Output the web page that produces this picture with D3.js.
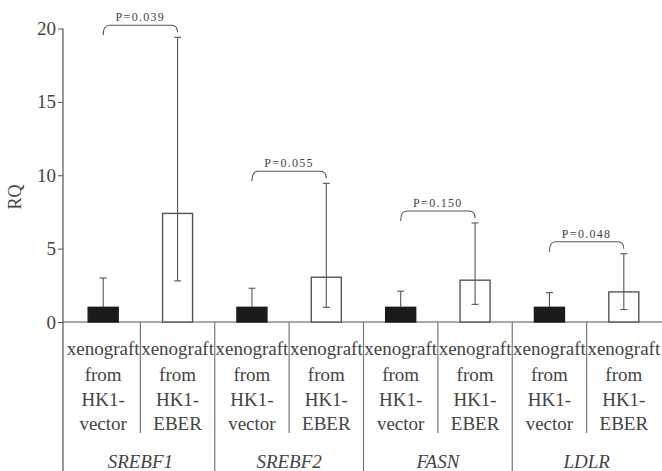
<!DOCTYPE html>
<html>
<head>
<meta charset="utf-8">
<style>
  body { margin: 0; background: #fff; }
</style>
</head>
<body>
<svg id="chart" width="662" height="471" style="font-family:'Liberation Serif'"></svg>
<script src="https://cdn.jsdelivr.net/npm/d3@7/dist/d3.min.js"></script>
<script>
// values
var genes = ["SREBF1", "SREBF2", "FASN", "LDLR"];
var vectorMean = [1, 1, 1, 1];
var vectorUpper = [3.0, 2.3, 2.1, 2.0];
var eberMean = [7.4, 3.05, 2.85, 2.05];
var eberLower = [2.8, 1.0, 1.2, 0.85];
var eberUpper = [19.4, 9.45, 6.75, 4.65];
var pValues = ["0.039", "0.055", "0.150", "0.048"];
var yTicks = [0, 5, 10, 15, 20];

var serif = "'Liberation Serif', 'Times New Roman', serif";
var svg = d3.select("#chart");
var lineCol = "#555";

var cols = [];
genes.forEach(function(g, i) {
  cols.push({gene: g, grp: "vector", key: g + "-vector", mean: vectorMean[i], lo: null, hi: vectorUpper[i]});
  cols.push({gene: g, grp: "EBER", key: g + "-EBER", mean: eberMean[i], lo: eberLower[i], hi: eberUpper[i]});
});

var x = d3.scaleBand().domain(cols.map(function(d) { return d.key; })).range([66, 661]);
var y = d3.scaleLinear().domain([0, 20]).range([322, 28.5]);
var barW = 30;
var axisX = 63;

// y axis
var yAxis = svg.append("g")
  .attr("transform", "translate(" + axisX + ",0)")
  .call(d3.axisLeft(y).tickValues(yTicks).tickSize(5).tickPadding(2).tickFormat(d3.format("d")));
yAxis.attr("font-family", null).attr("font-size", null);
yAxis.select(".domain").remove();
yAxis.selectAll(".tick line").attr("stroke", lineCol);
yAxis.selectAll(".tick text")
  .style("font-family", serif).style("font-size", "19px").attr("fill", "#444");

// axis line continues through the table
svg.append("line").attr("x1", axisX).attr("x2", axisX).attr("y1", y(20)).attr("y2", 471)
  .attr("stroke", lineCol).attr("stroke-width", 1.2);
// baseline
svg.append("line").attr("x1", axisX).attr("x2", 662).attr("y1", y(0)).attr("y2", y(0))
  .attr("stroke", lineCol).attr("stroke-width", 1.2);

svg.append("text")
  .attr("transform", "translate(21,197) rotate(-90)")
  .attr("text-anchor", "middle")
  .style("font-family", serif).style("font-size", "18px")
  .attr("fill", "#444")
  .text("RQ");

// separators in the table
cols.forEach(function(d, i) {
  if (i === 0) return;
  var xx = x(d.key);
  svg.append("line").attr("x1", xx).attr("x2", xx)
    .attr("y1", y(0)).attr("y2", d.grp === "EBER" ? 433 : 471)
    .attr("stroke", "#777").attr("stroke-width", 1.2);
});

// bars
svg.selectAll(".bar").data(cols).enter().append("rect")
  .attr("class", "bar")
  .attr("x", function(d) { return x(d.key) + x.bandwidth() / 2 - barW / 2; })
  .attr("y", function(d) { return y(d.mean); })
  .attr("width", barW)
  .attr("height", function(d) { return y(0) - y(d.mean); })
  .attr("fill", function(d) { return d.grp === "vector" ? "#1b1b1b" : "#fff"; })
  .attr("stroke", function(d) { return d.grp === "vector" ? "#1b1b1b" : "#555"; })
  .attr("stroke-width", 1.4);

// error bars
cols.forEach(function(d) {
  var cx = x(d.key) + x.bandwidth() / 2;
  var lo = d.lo === null ? d.mean : d.lo;
  var g = svg.append("g").attr("stroke", lineCol).attr("stroke-width", 1.1);
  g.append("line").attr("x1", cx).attr("x2", cx).attr("y1", y(lo)).attr("y2", y(d.hi));
  g.append("line").attr("x1", cx - 3.5).attr("x2", cx + 3.5).attr("y1", y(d.hi)).attr("y2", y(d.hi));
  if (d.lo !== null)
    g.append("line").attr("x1", cx - 3.5).attr("x2", cx + 3.5).attr("y1", y(d.lo)).attr("y2", y(d.lo));
});

// significance braces
genes.forEach(function(g, i) {
  var x1 = x(g + "-vector") + x.bandwidth() / 2;
  var x2 = x(g + "-EBER") + x.bandwidth() / 2;
  var top = y(eberUpper[i]) - 12;
  var r = 6;
  var path = d3.path();
  path.moveTo(x1, top + 10);
  path.quadraticCurveTo(x1, top, x1 + r, top);
  path.lineTo(x2 - r, top);
  path.quadraticCurveTo(x2, top, x2, top + 7);
  svg.append("path").attr("d", path.toString())
    .attr("fill", "none").attr("stroke", lineCol).attr("stroke-width", 1.1);
  svg.append("text")
    .attr("x", (x1 + x2) / 2)
    .attr("y", top - 4)
    .attr("text-anchor", "middle")
    .style("font-family", serif).style("font-size", "12px")
    .style("letter-spacing", "1.3px")
    .attr("fill", "#444")
    .text("P=" + pValues[i]);
});

// table labels
var lineY = [355, 381, 406, 430];
cols.forEach(function(d) {
  var cx = x(d.key) + x.bandwidth() / 2;
  var lines = ["xenograft", "from", "HK1-", d.grp === "vector" ? "vector" : "EBER"];
  svg.append("text")
    .attr("text-anchor", "middle")
    .style("font-family", serif).style("font-size", "19px")
    .attr("fill", "#444")
    .selectAll("tspan").data(lines).enter().append("tspan")
    .attr("x", cx)
    .attr("y", function(t, j) { return lineY[j]; })
    .text(function(t) { return t; });
});

genes.forEach(function(g) {
  var cx = (x(g + "-vector") + x(g + "-EBER") + x.bandwidth()) / 2;
  svg.append("text")
    .attr("x", cx)
    .attr("y", 468)
    .attr("text-anchor", "middle")
    .style("font-family", serif).style("font-size", "19px")
    .style("font-style", "italic")
    .attr("fill", "#444")
    .text(g);
});
</script>
</body>
</html>
